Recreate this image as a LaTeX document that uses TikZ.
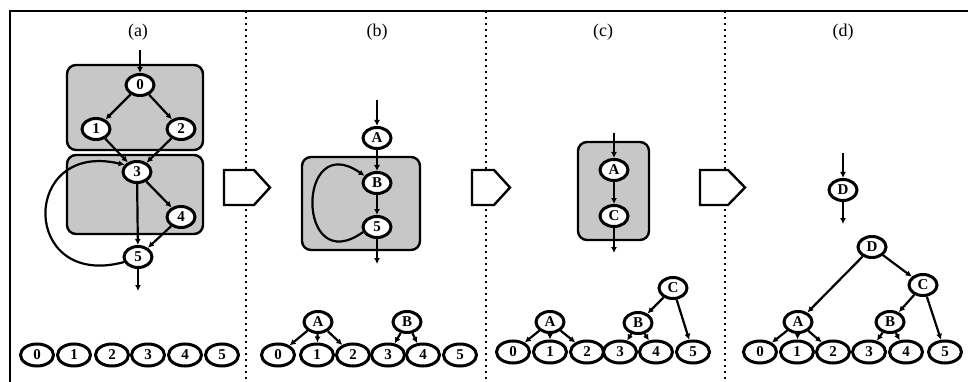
\documentclass[tikz,border=0pt]{standalone}
\usepackage{fontspec}
\setmainfont{Liberation Serif}
\usetikzlibrary{arrows.meta,shapes.geometric}
\begin{document}
\begin{tikzpicture}[x=1pt,y=-1pt,
 nd/.style={ellipse,draw,line width=3pt,fill=white,inner sep=0pt,minimum width=28pt,minimum height=21pt,font=\bfseries\fontsize{15}{15}\selectfont},
 lf/.style={nd,minimum width=33pt,minimum height=22pt},
 edge/.style={line width=2.2pt,-{Latex[length=6pt,width=6pt]}},
 grp/.style={draw,line width=2.4pt,rounded corners=9pt,fill=black!22},
 sep/.style={line width=2pt,dash pattern=on 2pt off 4pt},
 blk/.style={draw,line width=2.4pt,fill=white,line join=miter},
 lab/.style={font=\fontsize{18}{18}\selectfont}]
\useasboundingbox (0,0) rectangle (968,382);
% frame and separators
\draw[line width=2.6pt] (10,382) -- (10,11) -- (968,11);
\draw[sep] (246,11) -- (246,382);
\draw[sep] (486,11) -- (486,382);
\draw[sep] (725,11) -- (725,382);
% labels
\node[lab] (la) at (138,32) {(a)};
\node[lab] (lb) at (377,32) {(b)};
\node[lab] (lc) at (603,32) {(c)};
\node[lab] (ld) at (843,32) {(d)};
% block arrows
\draw[blk] (224,170) -- (254,170) -- (270,187.5) -- (254,205) -- (224,205) -- cycle;
\draw[blk] (472,170) -- (494,170) -- (510,187.5) -- (494,205) -- (472,205) -- cycle;
\draw[blk] (700,170) -- (728,170) -- (745,187.5) -- (728,205) -- (700,205) -- cycle;
% ---------- panel (a)
\draw[grp] (67,65) rectangle (203,150);
\draw[grp] (67,155) rectangle (203,234);
\node[nd] (a0) at (140,85) {0};
\node[nd] (a1) at (96,129) {1};
\node[nd] (a2) at (181,129) {2};
\node[nd] (a3) at (137,172) {3};
\node[nd] (a4) at (181,217) {4};
\node[nd] (a5) at (138,257) {5};
\coordinate (ain) at (140,50);
\coordinate (aout) at (138,291);
\draw[edge] (ain) -- (a0);
\draw[edge] (a0) -- (a1);
\draw[edge] (a0) -- (a2);
\draw[edge] (a1) -- (a3);
\draw[edge] (a2) -- (a3);
\draw[edge] (a3) -- (a4);
\draw[edge] (a3) -- (a5);
\draw[edge] (a4) -- (a5);
\draw[edge] (a5) -- (aout);
\draw[edge] (a5.200) .. controls (20,290) and (20,140) .. (a3.150);
\foreach \i/\x in {0/37,1/74,2/112,3/148,4/185,5/222}
  \node[lf] (ar\i) at (\x,355) {\i};
% ---------- panel (b)
\draw[grp] (302,157) rectangle (420,250);
\node[nd] (bA) at (377,138) {A};
\node[nd] (bB) at (377,183) {B};
\node[nd] (b5) at (377,227) {5};
\coordinate (bin) at (377,100);
\coordinate (bout) at (377,264);
\draw[edge] (bin) -- (bA);
\draw[edge] (bA) -- (bB);
\draw[edge] (bB) -- (b5);
\draw[edge] (b5) -- (bout);
\draw[edge] (b5.200) .. controls (296,280) and (296,128) .. (bB.150);
\foreach \i/\x in {0/278,1/317,2/353,3/388,4/423,5/460}
  \node[lf] (br\i) at (\x,355) {\i};
\node[nd] (btA) at (318,322) {A};
\node[nd] (btB) at (407,322) {B};
\draw[edge] (btA) -- (br0);
\draw[edge] (btA) -- (br1);
\draw[edge] (btA) -- (br2);
\draw[edge] (btB) -- (br3);
\draw[edge] (btB) -- (br4);
% ---------- panel (c)
\draw[grp] (578,142) rectangle (649,240);
\node[nd] (cA) at (614,170) {A};
\node[nd] (cC) at (614,216) {C};
\coordinate (cin) at (614,133);
\coordinate (cout) at (614,253);
\draw[edge] (cin) -- (cA);
\draw[edge] (cA) -- (cC);
\draw[edge] (cC) -- (cout);
\foreach \i/\x in {0/513,1/550,2/587,3/620,4/656,5/693}
  \node[lf] (cr\i) at (\x,352) {\i};
\node[nd] (ctA) at (550,322) {A};
\node[nd] (ctB) at (638,323) {B};
\node[nd] (ctC) at (673,288) {C};
\draw[edge] (ctA) -- (cr0);
\draw[edge] (ctA) -- (cr1);
\draw[edge] (ctA) -- (cr2);
\draw[edge] (ctB) -- (cr3);
\draw[edge] (ctB) -- (cr4);
\draw[edge] (ctC) -- (ctB);
\draw[edge] (ctC) -- (cr5);
% ---------- panel (d)
\node[nd] (dD) at (843,190) {D};
\coordinate (din) at (843,153);
\coordinate (dout) at (843,224);
\draw[edge] (din) -- (dD);
\draw[edge] (dD) -- (dout);
\foreach \i/\x in {0/760,1/797,2/833,3/869,4/906,5/945}
  \node[lf] (dr\i) at (\x,352) {\i};
\node[nd] (dtD) at (872,247) {D};
\node[nd] (dtC) at (923,285) {C};
\node[nd] (dtA) at (798,322) {A};
\node[nd] (dtB) at (890,322) {B};
\draw[edge] (dtD) -- (dtA);
\draw[edge] (dtD) -- (dtC);
\draw[edge] (dtC) -- (dtB);
\draw[edge] (dtC) -- (dr5);
\draw[edge] (dtA) -- (dr0);
\draw[edge] (dtA) -- (dr1);
\draw[edge] (dtA) -- (dr2);
\draw[edge] (dtB) -- (dr3);
\draw[edge] (dtB) -- (dr4);
\end{tikzpicture}
\end{document}
